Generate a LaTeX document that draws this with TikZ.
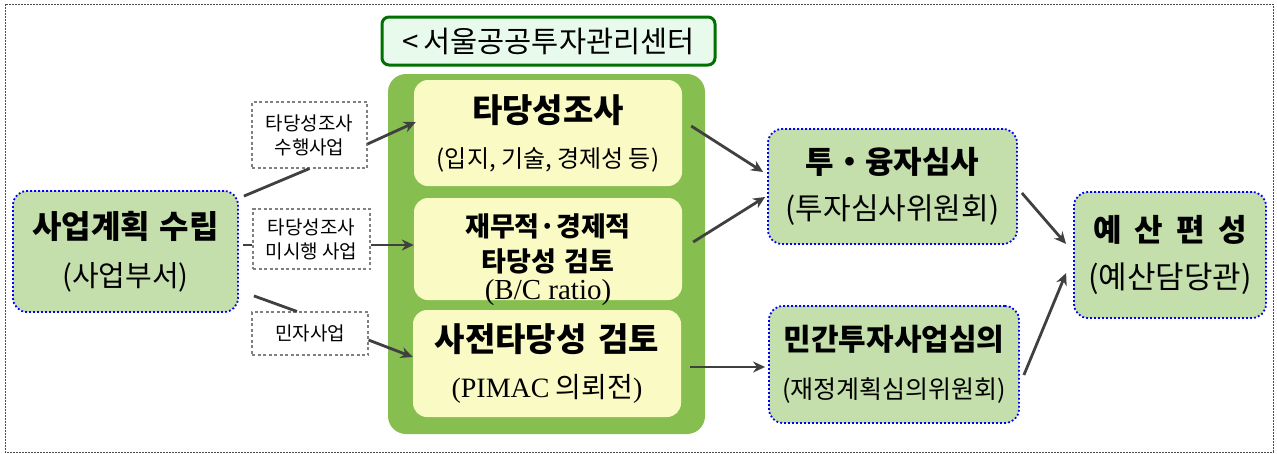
\documentclass[tikz,border=0pt]{standalone}
\usepackage{fontspec}
\setmainfont{Noto Sans CJK KR}
\newfontfamily\lat{Liberation Serif}
\usetikzlibrary{arrows.meta}
\definecolor{planfill}{RGB}{196,223,172}
\definecolor{bigfill}{RGB}{135,190,80}
\definecolor{yelfill}{RGB}{250,250,196}
\definecolor{titfill}{RGB}{232,250,236}
\definecolor{titline}{RGB}{0,112,0}
\definecolor{arrcol}{RGB}{64,64,64}
\definecolor{dotblue}{RGB}{0,0,255}
\tikzset{
 greenbox/.style={draw=dotblue, line width=1.8pt, dash pattern=on 1.8pt off 2.2pt, fill=planfill, rounded corners=14pt, inner sep=0pt, align=center},
 yelbox/.style={fill=yelfill, rounded corners=14pt, inner sep=0pt, align=center},
 labbox/.style={draw=gray, line width=1.1pt, dash pattern=on 3pt off 2.5pt, fill=white, inner sep=0pt, align=center, font=\fontsize{19}{24}\selectfont},
 conn/.style={draw=arrcol, line width=2.8pt},
 arr/.style={conn, -{Stealth[length=12pt,width=11pt]}},
}
\begin{document}
\begin{tikzpicture}[x=1pt,y=-1pt]
\useasboundingbox (0,0) rectangle (1277,453);
\draw[gray!60!black, line width=0.8pt, dash pattern=on 2pt off 1pt] (5,4) rectangle (1273,452);

% left
\node[greenbox, minimum width=225pt, minimum height=121pt, font=\fontsize{32}{48}\selectfont] (plan) at (125.5,251.5)
  {{\bfseries 사업계획\hspace{10pt}수립}\\{\fontsize{29}{48}\selectfont (사업부서)}};

\node[labbox, minimum width=115pt, minimum height=66pt] (lab1) at (309.5,135) {타당성조사\\수행사업};
\node[labbox, minimum width=117pt, minimum height=60pt] (lab2) at (311.5,239) {타당성조사\\미시행 사업};
\node[labbox, minimum width=116pt, minimum height=43pt] (lab3) at (310,333.5) {민자사업};

% center
\node[fill=bigfill, rounded corners=18pt, minimum width=317pt, minimum height=360pt, inner sep=0pt] (big) at (546.5,254) {};
\node[draw=titline, line width=3pt, fill=titfill, rounded corners=7pt, minimum width=333pt, minimum height=48pt, inner sep=0pt, font=\fontsize{29.5}{30}\selectfont] (title) at (548.5,41) {<\,서울공공투자관리센터};

\node[yelbox, minimum width=268pt, minimum height=106pt, font=\fontsize{33}{45}\selectfont] (A) at (548,133)
  {{\bfseries 타당성조사}\\{\fontsize{24}{45}\selectfont (입지, 기술, 경제성 등)}};
\node[fill=yelfill, rounded corners=14pt, inner sep=0pt, minimum width=268pt, minimum height=102pt, text height=0pt, text depth=0pt, font=\fontsize{27}{35}\selectfont] (B) at (548,249)
  {\raisebox{13pt}{\vtop{\halign{\hfil#\hfil\cr
     \bfseries 재무적·경제적\cr
     \bfseries 타당성\hspace{8pt}검토\cr
     \noalign{\vskip-7pt}
     \lat\fontsize{29}{35}\selectfont (B/C ratio)\cr}}}};
\node[yelbox, minimum width=268pt, minimum height=107pt, font=\fontsize{33}{46}\selectfont] (C) at (547,363.5)
  {{\bfseries 사전타당성\hspace{12pt}검토}\\{\fontsize{28}{46}\selectfont {\lat (PIMAC} 의뢰전{\lat )}}};

% right
\node[greenbox, minimum width=249pt, minimum height=115pt, font=\fontsize{31}{46}\selectfont] (TU) at (892.5,186.5)
  {{\bfseries 투・융자심사}\\{\fontsize{30}{46}\selectfont (투자심사위원회)}};
\node[greenbox, minimum width=250pt, minimum height=117pt, font=\fontsize{30}{48}\selectfont] (MIN) at (894,364.5)
  {{\bfseries 민간투자사업심의}\\{\fontsize{25}{48}\selectfont (재정계획심의위원회)}};
\node[greenbox, minimum width=192pt, minimum height=126pt, font=\fontsize{31}{47}\selectfont] (YE) at (1170,255)
  {{\bfseries 예\kern13pt 산\kern13pt 편\kern13pt 성}\\{\fontsize{31}{47}\selectfont (예산담당관)}};

% connectors left
\draw[conn] ([xshift=5pt,yshift=-6pt]plan.north east) -- (lab1.south);
\draw[arr] ([yshift=-9pt]lab1.east) -- ([xshift=2pt,yshift=11pt]A.west);
\draw[conn] ([xshift=4pt,yshift=6.5pt]plan.east) -- ([yshift=-6pt]lab2.west);
\draw[arr] ([yshift=-6pt]lab2.east) -- ([yshift=-6pt]lab2.east -| B.west);
\draw[conn] ([xshift=15pt,yshift=17pt]plan.south east) -- ([xshift=-13pt]lab3.north);
\draw[arr] ([yshift=-6.5pt]lab3.east) -- ([yshift=6.5pt]C.west);

% connectors center to right
\coordinate (cs) at ([xshift=9pt,yshift=-3.5pt]C.east);
\draw[arr] ([xshift=9pt,yshift=7pt]A.east) -- ([xshift=-4pt,yshift=14.5pt]TU.west);
\draw[arr] ([xshift=11pt,yshift=7pt]B.east) -- ([xshift=-2pt,yshift=-10.5pt]TU.west);
\draw[arr, shorten >=3pt] (cs) -- (cs -| MIN.west);
\draw[arr] ([xshift=4pt,yshift=-6.5pt]TU.east) -- ([xshift=-7pt,yshift=11pt]YE.west);
\draw[arr] ([xshift=4pt,yshift=-10.5pt]MIN.east) -- ([xshift=-7pt,yshift=-18pt]YE.west);
\end{tikzpicture}
\end{document}
